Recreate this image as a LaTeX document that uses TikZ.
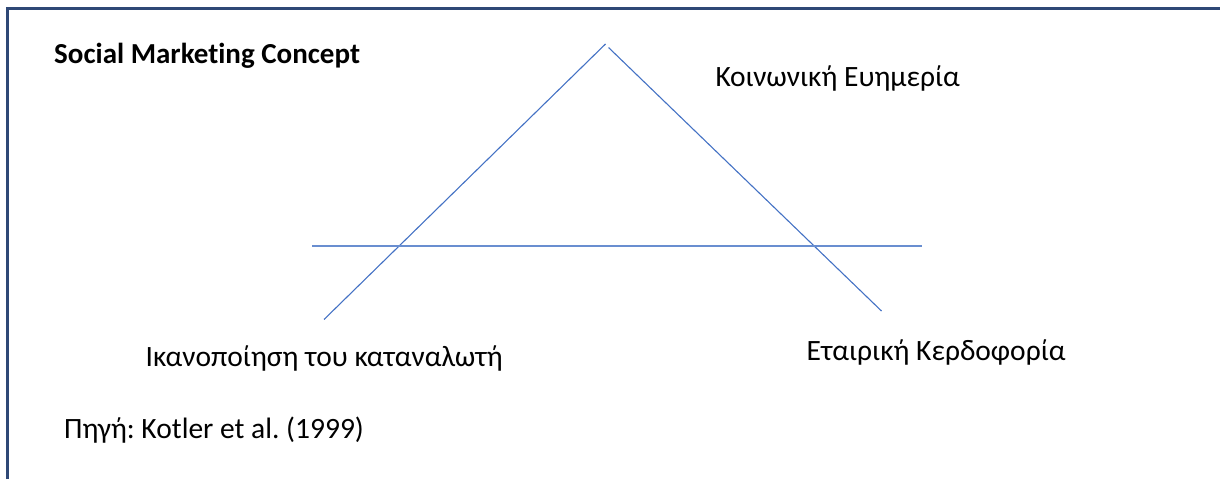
\documentclass[tikz,border=0pt]{standalone}
\usepackage{fontspec}
\setmainfont{Carlito}[Ligatures=NoCommon]
\frenchspacing
\definecolor{frameblue}{RGB}{47,72,118}
\definecolor{lineblue}{RGB}{68,114,196}
\begin{document}
\begin{tikzpicture}[x=1pt,y=-1pt,
  lbl/.style={anchor=base west,inner sep=0pt,font=\fontsize{29.5}{34}\selectfont},
  ttl/.style={anchor=base west,inner sep=0pt,font=\fontsize{29}{34}\selectfont\bfseries},
  conn/.style={draw=lineblue,line width=1.1pt},
  hconn/.style={draw=lineblue!80,line width=1.7pt},
  frm/.style={draw=frameblue,line width=2.6pt}]
\useasboundingbox (0,0) rectangle (1220,479);
% frame (open to right and bottom)
\coordinate (fa) at (7.5,479);
\coordinate (fb) at (7.5,8.7);
\coordinate (fc) at (1220,8.7);
\draw[frm] (fa) -- (fb) -- (fc);
% lines
\coordinate (l1) at (324,319.5);
\coordinate (l2) at (605.5,44);
\coordinate (r1) at (608.5,47.5);
\coordinate (r2) at (881.5,311);
\coordinate (h1) at (312,245.7);
\coordinate (h2) at (921.5,245.7);
\draw[conn] (l1) -- (l2);
\draw[conn] (r1) -- (r2);
\draw[hconn] (h1) -- (h2);
% texts
\node[ttl] (title) at (54,63.5) {Social Marketing Concept};
\node[lbl] (top) at (715.5,86) {Κοινωνική Ευημερία};
\node[lbl] (left) at (145.5,366.5) {Ικανοποίηση του καταναλωτή};
\node[lbl] (right) at (806.5,360.5) {Εταιρική Κερδοφορία};
\node[lbl] (src) at (64,438.5) {Πηγή: Kotler et al. (1999)};
\end{tikzpicture}
\end{document}
